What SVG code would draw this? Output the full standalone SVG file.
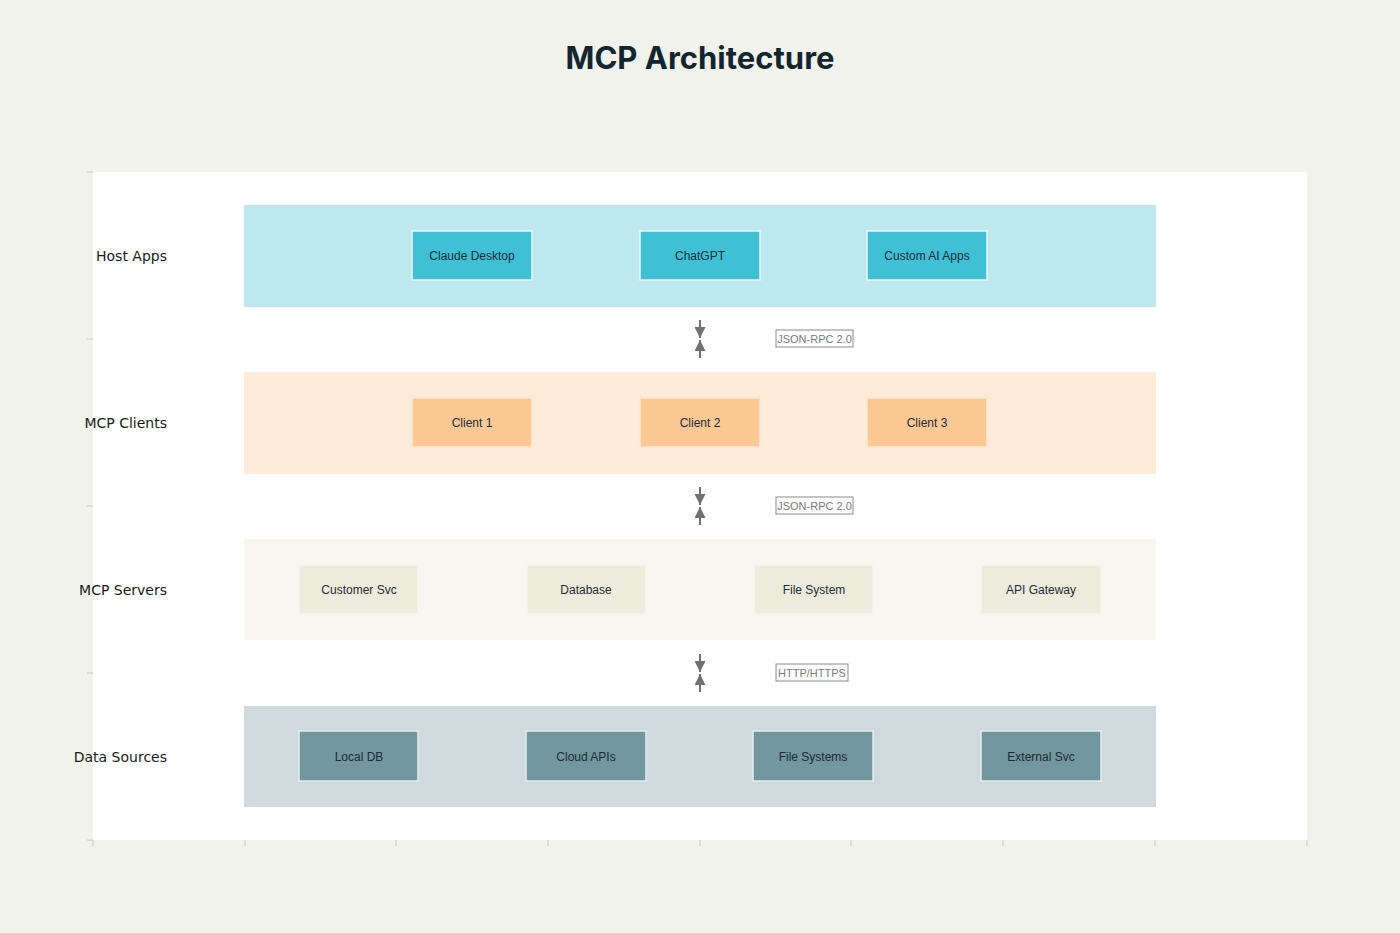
<svg xmlns="http://www.w3.org/2000/svg" width="1400" height="933" viewBox="0 0 1400 933">
<defs>
<style>
.bg{fill:#f2f2ec}
.plot{fill:#ffffff}
.tick{stroke:#c8c8c0;stroke-width:1}
.lbl{font-family:"DejaVu Sans",sans-serif;font-size:14px;fill:#1a1a1a;text-anchor:end}
.ntxt{font-family:"Liberation Sans",Arial,sans-serif;font-size:12px;fill:#1d2b36;text-anchor:middle}
.node{stroke:#eaf6f8;stroke-width:1.5}
.host{fill:#40c0d4}
.client{fill:#fcc995;stroke:#fbe8d6}
.server{fill:#edebdb;stroke:#f6f5ee}
.data{fill:#72979e;stroke:#e3ecee}
.conn{stroke:#707070;stroke-width:2;fill:none}
.proto{fill:#ffffff;stroke:#8a8a8a;stroke-width:1}
.ptxt{font-family:"Liberation Sans",Arial,sans-serif;font-size:11px;fill:#7a7a7a;text-anchor:middle}
</style>
<marker id="ah" viewBox="0 0 10 10" refX="10" refY="5" markerWidth="6" markerHeight="5.5" orient="auto" markerUnits="strokeWidth">
<path d="M0,0 L10,5 L0,10 z" fill="#707070"/>
</marker>
</defs>
<rect class="bg" x="0" y="0" width="1400" height="933"/>
<text x="700" y="69" font-family="Inter,'Liberation Sans',sans-serif" font-size="31" font-weight="bold" fill="#13262f" text-anchor="middle">MCP Architecture</text>
<rect class="plot" x="93" y="172" width="1214" height="668"/>
<g id="axes">
<line class="tick" x1="87" y1="172" x2="93" y2="172"/>
<line class="tick" x1="87" y1="339" x2="93" y2="339"/>
<line class="tick" x1="87" y1="506" x2="93" y2="506"/>
<line class="tick" x1="87" y1="673" x2="93" y2="673"/>
<line class="tick" x1="87" y1="840" x2="93" y2="840"/>
<line class="tick" x1="93" y1="840" x2="93" y2="846"/>
<line class="tick" x1="245" y1="840" x2="245" y2="846"/>
<line class="tick" x1="396" y1="840" x2="396" y2="846"/>
<line class="tick" x1="548" y1="840" x2="548" y2="846"/>
<line class="tick" x1="700" y1="840" x2="700" y2="846"/>
<line class="tick" x1="851" y1="840" x2="851" y2="846"/>
<line class="tick" x1="1003" y1="840" x2="1003" y2="846"/>
<line class="tick" x1="1155" y1="840" x2="1155" y2="846"/>
<line class="tick" x1="1307" y1="840" x2="1307" y2="846"/>
</g>
<g id="labels">
<text class="lbl" x="167" y="261">Host Apps</text>
<text class="lbl" x="167" y="428">MCP Clients</text>
<text class="lbl" x="167" y="595">MCP Servers</text>
<text class="lbl" x="167" y="762">Data Sources</text>
</g>
<g id="band-host"><rect x="244" y="205" width="912" height="102" fill="#bde8ee"/></g>
<g id="band-clients"><rect x="244" y="372" width="912" height="102" fill="#fdebda"/></g>
<g id="band-servers"><rect x="244" y="539" width="912" height="101" fill="#f8f6f1"/></g>
<g id="band-data"><rect x="244" y="706" width="912" height="101" fill="#cfd9de"/></g>
<g id="claude-desktop"><rect class="node host" x="412" y="231" width="120" height="49"/><text class="ntxt" x="472" y="260">Claude Desktop</text></g>
<g id="chatgpt"><rect class="node host" x="640" y="231" width="120" height="49"/><text class="ntxt" x="700" y="260">ChatGPT</text></g>
<g id="custom-ai-apps"><rect class="node host" x="867" y="231" width="120" height="49"/><text class="ntxt" x="927" y="260">Custom AI Apps</text></g>
<g id="client-1"><rect class="node client" x="412" y="398" width="120" height="49"/><text class="ntxt" x="472" y="427">Client 1</text></g>
<g id="client-2"><rect class="node client" x="640" y="398" width="120" height="49"/><text class="ntxt" x="700" y="427">Client 2</text></g>
<g id="client-3"><rect class="node client" x="867" y="398" width="120" height="49"/><text class="ntxt" x="927" y="427">Client 3</text></g>
<g id="customer-svc"><rect class="node server" x="299" y="565" width="119" height="49"/><text class="ntxt" x="359" y="594">Customer Svc</text></g>
<g id="database"><rect class="node server" x="527" y="565" width="119" height="49"/><text class="ntxt" x="586" y="594">Database</text></g>
<g id="file-system"><rect class="node server" x="754" y="565" width="119" height="49"/><text class="ntxt" x="814" y="594">File System</text></g>
<g id="api-gateway"><rect class="node server" x="981" y="565" width="120" height="49"/><text class="ntxt" x="1041" y="594">API Gateway</text></g>
<g id="local-db"><rect class="node data" x="299" y="731" width="119" height="50"/><text class="ntxt" x="359" y="761">Local DB</text></g>
<g id="cloud-apis"><rect class="node data" x="526" y="731" width="120" height="50"/><text class="ntxt" x="586" y="761">Cloud APIs</text></g>
<g id="file-systems"><rect class="node data" x="753" y="731" width="120" height="50"/><text class="ntxt" x="813" y="761">File Systems</text></g>
<g id="external-svc"><rect class="node data" x="981" y="731" width="120" height="50"/><text class="ntxt" x="1041" y="761">External Svc</text></g>
<g id="connectors">
<line class="conn" x1="700" y1="320" x2="700" y2="338" marker-end="url(#ah)"/>
<line class="conn" x1="700" y1="358" x2="700" y2="340" marker-end="url(#ah)"/>
<rect class="proto" x="776" y="330" width="77" height="17"/>
<text class="ptxt" x="814.5" y="342.5">JSON-RPC 2.0</text>
<line class="conn" x1="700" y1="487" x2="700" y2="505" marker-end="url(#ah)"/>
<line class="conn" x1="700" y1="525" x2="700" y2="507" marker-end="url(#ah)"/>
<rect class="proto" x="776" y="497" width="77" height="17"/>
<text class="ptxt" x="814.5" y="509.5">JSON-RPC 2.0</text>
<line class="conn" x1="700" y1="654" x2="700" y2="672" marker-end="url(#ah)"/>
<line class="conn" x1="700" y1="692" x2="700" y2="674" marker-end="url(#ah)"/>
<rect class="proto" x="776" y="664" width="72" height="17"/>
<text class="ptxt" x="812" y="676.5">HTTP/HTTPS</text>
</g>
</svg>
